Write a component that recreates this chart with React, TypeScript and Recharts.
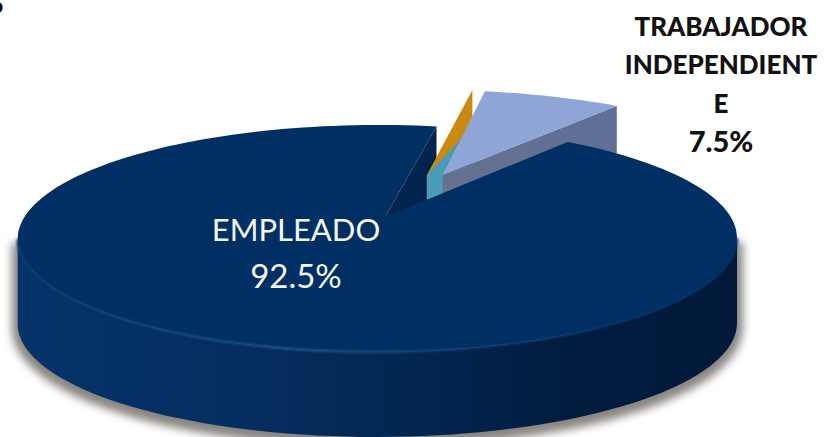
import React from 'react'
import { PieChart, Pie, Cell } from 'recharts'

const categories = ['OTRO 2', 'OTRO 1', 'TRABAJADOR INDEPENDIENTE', 'EMPLEADO']
const values = [0, 0, 7.5, 92.5]
const topColors = ['#c98a12', '#4b9cb6', '#8fa5d7', '#002f63']
const wallColors = ['#c98a12', '#4b9cb6', '#5f6e95', '#01244f']
const labelLines: Record<string, string[]> = {
    EMPLEADO: ['EMPLEADO'],
    'TRABAJADOR INDEPENDIENTE': ['TRABAJADOR', 'INDEPENDIENT', 'E']
}

const data = categories.map((name, i) => ({ name, value: values[i] }))

// view of the flat pie: perspective factors and height of the side wall
const TILT_V = 0.189
const TILT_U = 0.021
const SQUASH = 0.31
const DEPTH = 85

// how far a slice is pulled out, and its radius, in units of the pie radius
const explode: Record<string, { dist: number; dir: number; size: number }> = {
    EMPLEADO: { dist: 0, dir: 0, size: 1 },
    'TRABAJADOR INDEPENDIENTE': { dist: 0.452, dir: 67, size: 1.08 },
    'OTRO 1': { dist: 0.434, dir: 72.8, size: 1.1 },
    'OTRO 2': { dist: 0.434, dir: 72.8, size: 1.1 }
}

const rad = (a: number) => (a * Math.PI) / 180

const projector = (cx: number, cy: number, radius: number, name: string) => {
    const ex = explode[name]
    return (angle: number, r: number) => {
        const u = ex.dist * Math.cos(rad(ex.dir)) + r * ex.size * Math.cos(rad(angle))
        const v = ex.dist * Math.sin(rad(ex.dir)) + r * ex.size * Math.sin(rad(angle))
        const w = 1 + TILT_U * u + TILT_V * v
        return [cx + (radius * u) / w, cy - (radius * SQUASH * v) / w]
    }
}

const toPath = (pts: number[][], close = true) =>
    pts.map((p, i) => `${i ? 'L' : 'M'}${p[0].toFixed(1)} ${p[1].toFixed(1)}`).join(' ') + (close ? ' Z' : '')

const arc = (pr: (a: number, r: number) => number[], from: number, to: number) => {
    const n = Math.max(2, Math.ceil(Math.abs(to - from) / 2))
    return Array.from({ length: n + 1 }, (_, i) => pr(from + ((to - from) * i) / n, 1))
}

const drop = (p: number[], d = DEPTH) => [p[0], p[1] + d]

// back layer: shadow, outer wall and cut wall of the big slice
const BaseShape = (props: any) => {
    const { cx, cy, outerRadius, endAngle, name } = props
    if (name !== 'EMPLEADO') return null
    const pr = projector(cx, cy, outerRadius, name)
    const front = arc(pr, 191, 349)
    const wall = [...front, ...front.map((p) => drop(p)).reverse()]
    const cutTop = pr(endAngle, 1)
    const cutApex = pr(endAngle, 0)
    return (
        <g>
            <path
                d={toPath(wall)}
                fill="#8a8580"
                stroke="#8a8580"
                strokeWidth={12}
                filter="url(#pieShadow)"
                transform="translate(0 4)"
            />
            <path d={toPath(wall)} fill="url(#pieWall)" />
            <path d={toPath([cutApex, cutTop, drop(cutTop), drop(cutApex)])} fill={wallColors[3]} />
        </g>
    )
}

// front layer: pulled out slices and the top of the big slice
const TopShape = (props: any) => {
    const { cx, cy, outerRadius, startAngle, endAngle, name, fill } = props
    const pr = projector(cx, cy, outerRadius, name)
    const apex = pr(startAngle, 0)
    if (name === 'OTRO 2') {
        const end = pr(startAngle, 1)
        return <path d={toPath([apex, end, drop(end), drop(apex)])} fill={fill} />
    }
    if (name === 'OTRO 1') {
        const end = pr(startAngle, 1)
        return <path d={toPath([apex, drop(end, 37), drop(end), drop(apex)])} fill={fill} />
    }
    const rim = arc(pr, startAngle, endAngle)
    if (name === 'EMPLEADO') {
        return (
            <g>
                <path d={toPath([apex, ...rim])} fill={fill} />
                <path
                    d={toPath(arc(pr, 191, 349), false)}
                    fill="none"
                    stroke="url(#pieRim)"
                    strokeWidth={2.5}
                    filter="url(#rimSoft)"
                />
            </g>
        )
    }
    const outer = pr(endAngle, 1)
    return (
        <g>
            <path d={toPath([apex, outer, drop(outer), drop(apex)])} fill="url(#sliceWall)" />
            <path d={toPath([apex, ...rim])} fill={fill} />
        </g>
    )
}

const renderLabel = (props: any) => {
    const { name, value } = props
    const lines = labelLines[name]
    if (!lines) return null
    const main = name === 'EMPLEADO'
    const x = main ? 296 : 721
    const first = main ? 241 : 35.5
    const step = main ? 47 : 38.8
    return (
        <text x={x} textAnchor="middle" fontFamily="Lato, sans-serif" fill={main ? '#f4f6f8' : '#111111'}>
            {[...lines, `${value}%`].map((line, i) => (
                <tspan
                    key={line}
                    x={x}
                    y={first + i * step}
                    fontSize={main ? (i === lines.length ? 33 : 31) : i === lines.length ? 29 : 26}
                    fontWeight={main ? 400 : 900}
                >
                    {line}
                </tspan>
            ))}
        </text>
    )
}

const App: React.FC = () => (
    <div style={{ position: 'absolute', left: 0, top: 0, width: 825, height: 437, overflow: 'hidden', background: '#fff' }}>
        <PieChart width={825} height={437} margin={{ top: 0, right: 0, bottom: 0, left: 0 }}>
            <defs>
                <linearGradient id="pieWall" gradientUnits="userSpaceOnUse" x1="18" y1="0" x2="737" y2="0">
                    <stop offset="0" stopColor="#06336a" />
                    <stop offset="0.3" stopColor="#052e60" />
                    <stop offset="0.55" stopColor="#032651" />
                    <stop offset="0.75" stopColor="#011d40" />
                    <stop offset="1" stopColor="#01183a" />
                </linearGradient>
                <linearGradient id="pieRim" gradientUnits="userSpaceOnUse" x1="18" y1="0" x2="737" y2="0">
                    <stop offset="0" stopColor="#0a3a72" />
                    <stop offset="0.4" stopColor="#1e4f88" />
                    <stop offset="0.65" stopColor="#0a3a70" />
                    <stop offset="1" stopColor="#002f63" />
                </linearGradient>
                <linearGradient id="sliceWall" gradientUnits="userSpaceOnUse" x1="440" y1="0" x2="620" y2="0">
                    <stop offset="0" stopColor="#66718f" />
                    <stop offset="1" stopColor="#5f6f99" />
                </linearGradient>
                <filter id="pieShadow" x="-5%" y="-10%" width="110%" height="120%">
                    <feGaussianBlur stdDeviation="4" />
                </filter>
                <filter id="rimSoft" x="-5%" y="-20%" width="110%" height="140%">
                    <feGaussianBlur stdDeviation="1" />
                </filter>
            </defs>
            <Pie
                data={data}
                dataKey="value"
                nameKey="name"
                cx={385}
                cy={217}
                outerRadius={353}
                startAngle={80}
                endAngle={-280}
                stroke="none"
                shape={BaseShape}
                isAnimationActive={false}
            />
            <Pie
                data={data}
                dataKey="value"
                nameKey="name"
                cx={385}
                cy={217}
                outerRadius={353}
                startAngle={80}
                endAngle={-280}
                stroke="none"
                shape={TopShape}
                label={renderLabel}
                labelLine={false}
                isAnimationActive={false}
            >
                {categories.map((name, i) => (
                    <Cell key={name} fill={topColors[i]} />
                ))}
            </Pie>
            <text x={-9} y={13} fontFamily="Liberation Sans, sans-serif" fontSize={20} fontWeight={700} fill="#000">
                o
            </text>
        </PieChart>
    </div>
)

export default App
